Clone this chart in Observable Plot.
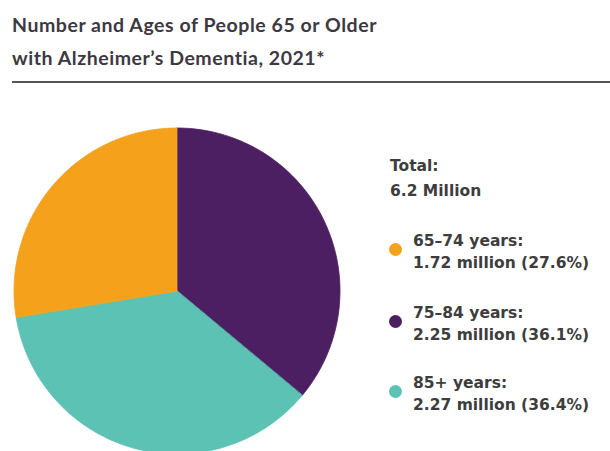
<!DOCTYPE html>
<html>
<head>
<meta charset="utf-8">
<script src="https://cdn.jsdelivr.net/npm/d3@7"></script>
<script src="https://cdn.jsdelivr.net/npm/@observablehq/plot@0.6"></script>
<style>
  html, body { margin: 0; padding: 0; background: #fff; }
  #wrap { position: relative; width: 610px; height: 451px; overflow: hidden; background: #fff; }
  #title { position: absolute; left: 12px; top: 8px; font-family: Lato, "Open Sans", sans-serif; font-weight: 700; font-size: 19.5px; letter-spacing: 0.55px; line-height: 33px; color: #3d3842; white-space: nowrap; }
  #rule { position: absolute; left: 12px; top: 81px; width: 598px; height: 0; border-top: 2px solid #555; }
  #chart { position: absolute; left: 0; top: 90px; }
  .leg { position: absolute; font-family: "DejaVu Sans", Verdana, sans-serif; font-weight: 700; font-size: 15.5px; color: #3d3d3d; white-space: nowrap; }
  #total { left: 390px; top: 154px; line-height: 25px; }
  .item { left: 390px; padding-left: 23px; line-height: 22px; }
  .dot { position: absolute; left: -1px; top: 13px; width: 13px; height: 13px; border-radius: 50%; }
</style>
</head>
<body>
<div id="wrap">
  <div id="title">Number and Ages of People 65 or Older<br>with Alzheimer’s Dementia, 2021*</div>
  <div id="rule"></div>
  <div id="chart"></div>
</div>
<script>
const categories = ["75-84 years", "85+ years", "65-74 years"];
const millions = [2.25, 2.27, 1.72];
const percents = [36.1, 36.4, 27.6];
const colors = ["#4b1f62", "#5cc3b4", "#f6a11b"];
const totalLabel = "6.2 Million";
const legendOrder = ["65-74 years", "75-84 years", "85+ years"];

const pie = d3.pie().sort(null).value(d => d)(percents);
const wedges = [];
pie.forEach((p, i) => {
  const steps = 90;
  for (let k = 0; k <= steps; k++) {
    const a = p.startAngle + (p.endAngle - p.startAngle) * k / steps;
    wedges.push({cat: categories[i], x1: Math.sin(a), y1: Math.cos(a), x2: 0, y2: 0});
  }
});

const chart = Plot.plot({
  width: 610,
  height: 361,
  margin: 0,
  x: {domain: [-1, 1], range: [14, 340], axis: null},
  y: {domain: [-1, 1], range: [364, 38], axis: null},
  color: {domain: categories, range: colors},
  marks: [
    Plot.area(wedges, {x1: "x1", y1: "y1", x2: "x2", y2: "y2", z: "cat", fill: "cat", stroke: "cat", strokeWidth: 0.8, curve: "linear"})
  ]
});
document.getElementById("chart").appendChild(chart);

const wrap = document.getElementById("wrap");
const total = document.createElement("div");
total.className = "leg";
total.id = "total";
total.innerHTML = `Total:<br>${totalLabel}`;
wrap.appendChild(total);
const itemTops = [230, 302, 372];
legendOrder.forEach((c, j) => {
  const i = categories.indexOf(c);
  const div = document.createElement("div");
  div.className = "leg item";
  div.style.top = itemTops[j] + "px";
  div.innerHTML = `<span class="dot" style="background:${colors[i]}"></span>${c.replace("-", "–")}:<br>${millions[i].toFixed(2)} million (${percents[i].toFixed(1)}%)`;
  wrap.appendChild(div);
});
</script>
</body>
</html>
